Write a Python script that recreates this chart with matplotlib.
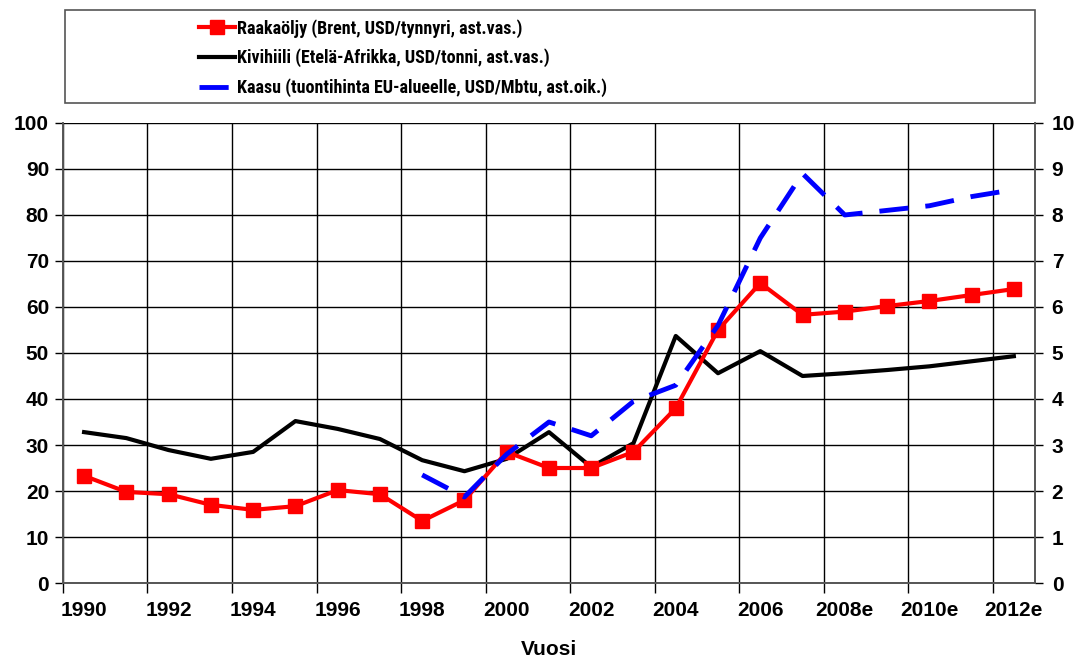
import numpy as np
import matplotlib
matplotlib.use('Agg')
import matplotlib.pyplot as plt
from matplotlib.patches import Rectangle
from matplotlib import font_manager

plt.rcParams['font.family'] = 'Liberation Sans'
plt.rcParams['font.weight'] = 'bold'

years = ['1990', '1991', '1992', '1993', '1994', '1995', '1996', '1997', '1998', '1999',
         '2000', '2001', '2002', '2003', '2004', '2005', '2006', '2007', '2008e', '2009e',
         '2010e', '2011e', '2012e']

# Brent, USD/barrel (left axis)
oil = [23.3, 19.8, 19.3, 17.0, 15.9, 16.7, 20.2, 19.3, 13.5, 18.0,
       28.5, 25.0, 25.0, 28.5, 38.0, 55.0, 65.2, 58.3, 59.0, 60.2,
       61.3, 62.6, 63.9]
# South Africa coal, USD/tonne (left axis)
coal = [32.8, 31.5, 28.9, 27.0, 28.5, 35.2, 33.5, 31.3, 26.7, 24.3,
        27.0, 32.8, 25.2, 30.4, 53.7, 45.6, 50.4, 45.0, 45.6, 46.3,
        47.1, 48.2, 49.3]
# gas import price EU, USD/Mbtu (right axis), from 1998
gas = [None] * 8 + [2.35, 1.87, 2.8, 3.5, 3.2, 3.95, 4.3, 5.6, 7.5, 8.9, 8.0, 8.1,
                    8.2, 8.4, 8.55]

x = np.arange(len(years))
gas_arr = np.array([np.nan if v is None else v for v in gas])

# legend in the original uses a narrow bold face; pick one if it is there
fonts = font_manager.fontManager.ttflist
names = {f.name for f in fonts}
if 'Liberation Sans Narrow' in names:
    leg_prop = {'family': 'Liberation Sans Narrow', 'weight': 'bold', 'size': 13}
elif 'Roboto Condensed' in names:
    leg_prop = {'family': 'Roboto Condensed', 'weight': 'bold', 'size': 13}
elif any(f.name == 'DejaVu Sans' and f.stretch == 'condensed' for f in fonts):
    leg_prop = {'family': 'DejaVu Sans', 'stretch': 'condensed', 'weight': 'bold', 'size': 11.5}
else:
    leg_prop = {'family': 'Liberation Sans', 'weight': 'bold', 'size': 11.5}

fig = plt.figure(figsize=(10.78, 6.59), dpi=100)
ax = fig.add_axes([0.0584, 0.1153, 0.9017, 0.6981])
ax2 = ax.twinx()

ax.plot(x, oil, color='#ff0000', lw=3, marker='s', markersize=10, zorder=4,
        label='Raakaöljy (Brent, USD/tynnyri, ast.vas.)')
ax.plot(x, coal, color='black', lw=3, zorder=3,
        label='Kivihiili (Etelä-Afrikka, USD/tonni, ast.vas.)')
ln_gas, = ax2.plot(x, gas_arr, color='#0000ff', lw=3.5, zorder=5,
                   label='Kaasu (tuontihinta EU-alueelle, USD/Mbtu, ast.oik.)')
ln_gas.set_dashes((6, 3.5))

ax.set_xlim(-0.5, len(years) - 0.5)
ax.set_ylim(0, 100)
ax2.set_ylim(0, 10)
ax.set_yticks(np.arange(0, 101, 10))
ax2.set_yticks(np.arange(0, 11, 1))

# gridlines at category boundaries, labels at every other category
ax.set_xticks(np.arange(-0.5, len(years), 2))
ax.set_xticklabels([])
ax.set_xticks(x[::2], minor=True)
ax.set_xticklabels(years[::2], minor=True)
ax.tick_params(axis='x', which='major', length=7, width=1, direction='out')
ax.tick_params(axis='x', which='minor', length=0, pad=13, labelsize=15)
ax.tick_params(axis='y', length=6, width=1, labelsize=15, pad=4)
ax2.tick_params(axis='y', length=6, width=1, labelsize=15, pad=6)

ax.grid(True, which='major', color='black', lw=1)
ax.set_axisbelow(True)
for a in (ax, ax2):
    for s in a.spines.values():
        s.set_color('#555555')
        s.set_linewidth(1.2)
    a.spines['top'].set_visible(False)

ax.set_xlabel('Vuosi', fontsize=15, fontweight='bold', labelpad=14)

# legend box across the top
fig.patches.append(Rectangle((0.0603, 0.8437), 0.8998, 0.1411, transform=fig.transFigure,
                             fill=False, edgecolor='#555555', lw=1.2))
handles = [ax.lines[0], ax.lines[1], ln_gas]
leg = fig.legend(handles, [h.get_label() for h in handles], loc='upper left',
                 bbox_to_anchor=(0.178, 0.982), frameon=False, handlelength=2.0,
                 handletextpad=0.12, labelspacing=0.6, borderaxespad=0,
                 prop=leg_prop)

fig.savefig('out.png', dpi=100)
